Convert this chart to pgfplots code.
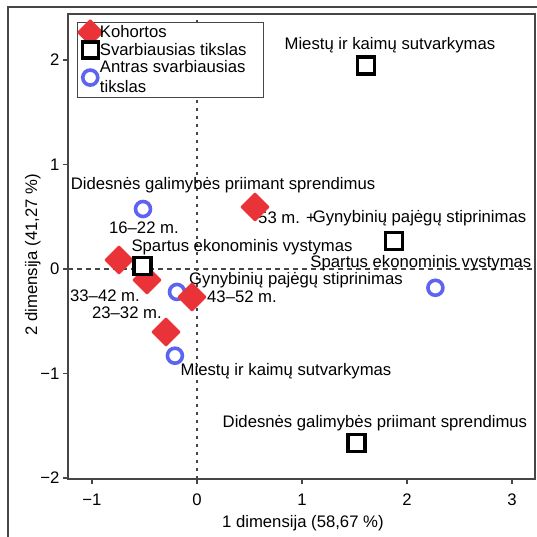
\documentclass[border=0pt]{standalone}
\usepackage{pgfplots}
\pgfplotsset{compat=1.18}
\usepackage{fontspec}
\setmainfont{Liberation Sans}
\definecolor{kred}{RGB}{234,51,56}
\definecolor{kblue}{RGB}{92,100,240}
\definecolor{axgray}{RGB}{70,70,70}
\newcommand{\lbl}{\fontsize{16.7bp}{18bp}\selectfont}

\begin{document}
\begin{tikzpicture}
\begin{axis}[
  x=105bp, y=104.5bp,
  xmin=-1.229, xmax=3.22, ymin=-2.01, ymax=2.44,
  clip=false,
  axis line style={axgray, line width=1.4bp},
  xtick={-1,0,1,2,3}, ytick={-2,-1,0,1,2},
  xticklabels={−1,0,1,2,3}, yticklabels={−2,−1,0,1,2},
  tick align=outside, tick pos=left,
  major tick length=5bp,
  tick style={axgray, line width=1.4bp},
  ticklabel style={font=\lbl},
  xticklabel style={yshift=-6bp},
  xlabel={1 dimensija (58,67 \%)},
  ylabel={2 dimensija (41,27 \%)},
  label style={font=\lbl},
  xlabel style={at={(axis description cs:0.503,-0.0946)}, anchor=center},
  ylabel style={at={(axis description cs:-0.075,0.482)}, anchor=center},
  legend style={at={(axis cs:-1.143,2.364)}, anchor=north west,
    draw=axgray, line width=1.3bp, font=\fontsize{16.7bp}{20bp}\selectfont,
    inner xsep=1bp, inner ysep=2bp, row sep=2bp,
    nodes={inner sep=1bp, align=left}},
  legend cell align=left,
  legend image code/.code={%
    \begin{pgfinterruptboundingbox}
    \draw[mark repeat=2,mark phase=2,#1]
      plot coordinates {(-2bp,0bp)(9bp,0bp)(20bp,0bp)};
    \end{pgfinterruptboundingbox}
    \path (-2bp,0bp) (17bp,0bp);},
]
% legend entries
\addlegendimage{only marks, mark=square*, mark size=8.5bp, color=kred,
  mark options={rotate=45, line width=2bp, line join=round}}
\addlegendentry{Kohortos}
\addlegendimage{only marks, mark=square*, mark size=8bp, draw=black,
  fill=white, mark options={line width=3.5bp}}
\addlegendentry{Svarbiausias tikslas\hspace{15bp}}
\addlegendimage{only marks, mark=*, mark size=7.5bp, draw=kblue,
  fill=white, mark options={line width=3.6bp}}
\addlegendentry{Antras svarbiausias\\tikslas\rule[-11bp]{0pt}{11bp}}

% zero reference lines
\addplot[forget plot, axgray, line width=1.1bp, dash pattern=on 3bp off 5bp]
  coordinates {(0,-2.01)(0,2.44)};
\addplot[forget plot, axgray, line width=1.1bp, dash pattern=on 5bp off 4bp]
  coordinates {(-1.229,0)(3.22,0)};

% Antras svarbiausias tikslas
\addplot[forget plot, only marks, mark=*, mark size=7.5bp, draw=kblue,
  fill=white, mark options={line width=3.6bp}]
  coordinates {(-0.514,0.574)(-0.19,-0.22)(-0.21,-0.83)(2.271,-0.18)};

% Kohortos
\addplot[forget plot, only marks, mark=square*, mark size=9.5bp, color=kred,
  mark options={rotate=45, line width=2bp, line join=round}]
  coordinates {(0.552,0.593)(-0.743,0.086)(-0.476,-0.105)(-0.048,-0.268)(-0.295,-0.603)};

% Svarbiausias tikslas
\addplot[forget plot, only marks, mark=square*, mark size=8.5bp, draw=black,
  fill=white, mark options={line width=3.8bp}]
  coordinates {(1.61,1.95)(1.876,0.268)(-0.519,0.029)(1.52,-1.665)};

% point labels
\node[font=\lbl] at (axis cs:1.838,2.144) {Miestų ir kaimų sutvarkymas};
\node[font=\lbl] at (axis cs:0.248,0.804) {Didesnės galimybės priimant sprendimus};
\node[font=\lbl] at (axis cs:-0.505,0.392) {16–22 m.};
\node[font=\lbl, anchor=west] at (axis cs:0.550,0.488) {53 m. +};
\node[font=\lbl] at (axis cs:2.12,0.488) {Gynybinių pajėgų stiprinimas};
\node[font=\lbl] at (axis cs:0.429,0.205) {Spartus ekonominis vystymas};
\node[font=\lbl] at (axis cs:2.133,0.055) {Spartus ekonominis vystymas};
\node[font=\lbl] at (axis cs:0.943,-0.110) {Gynybinių pajėgų stiprinimas};
\node[font=\lbl] at (axis cs:-0.876,-0.255) {33–42 m.};
\node[font=\lbl] at (axis cs:-0.667,-0.415) {23–32 m.};
\node[font=\lbl] at (axis cs:0.429,-0.268) {43–52 m.};
\node[font=\lbl] at (axis cs:0.848,-0.980) {Miestų ir kaimų sutvarkymas};
\node[font=\lbl] at (axis cs:1.695,-1.480) {Didesnės galimybės priimant sprendimus};

% outer frame and page extent
\coordinate (bbl) at (axis cs:-1.876,-2.565);
\coordinate (btr) at (axis cs:3.229,2.574);
\coordinate (ftl) at (axis cs:-1.8,2.507);
\coordinate (fbl) at (axis cs:-1.8,-2.6);
\coordinate (ftr) at (axis cs:3.3,2.507);
\end{axis}
\draw[axgray, line width=1.2bp] (fbl) -- (ftl) -- (ftr);
\pgfresetboundingbox
\useasboundingbox (bbl) rectangle (btr);
\end{tikzpicture}
\end{document}
